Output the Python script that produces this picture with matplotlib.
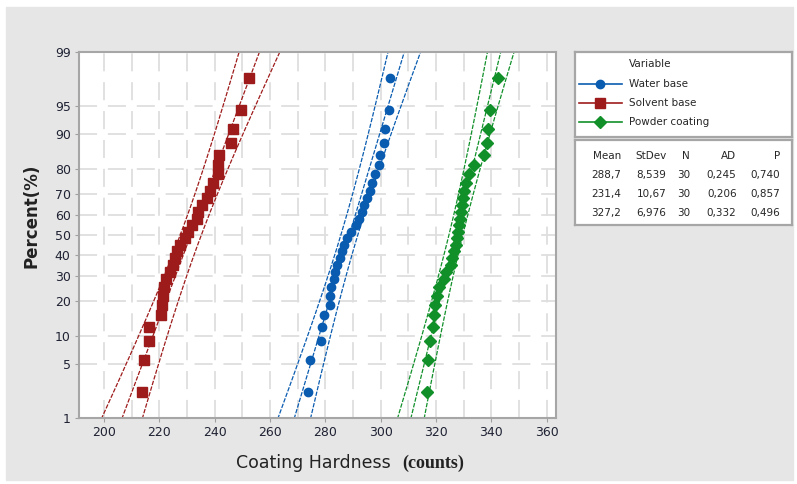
import matplotlib
matplotlib.use('Agg')
import matplotlib.pyplot as plt
from matplotlib.patches import Rectangle
from matplotlib.ticker import NullLocator, FixedLocator
import numpy as np
from statistics import NormalDist

# data (30 sorted values per group)
series = ['Water base', 'Solvent base', 'Powder coating']
water = [273.6, 274.4, 278.6, 278.8, 279.4, 281.6, 281.8, 282.2, 283.0, 283.6,
         284.2, 285.2, 286.0, 286.9, 287.9, 289.4, 291.0, 292.2, 293.3, 293.9,
         295.1, 296.0, 296.9, 298.1, 299.3, 299.9, 301.1, 301.7, 302.9, 303.5]
solvent = [213.6, 214.5, 216.3, 216.4, 220.5, 220.9, 221.2, 221.8, 222.5, 223.9,
           225.1, 225.7, 226.3, 227.5, 229.3, 230.5, 231.7, 233.5, 234.1, 235.4,
           237.2, 238.4, 239.5, 241.2, 241.4, 241.5, 245.9, 246.6, 249.6, 252.6]
powder = [316.6, 317.3, 318.0, 318.8, 319.2, 319.6, 320.3, 321.0, 322.8, 323.8,
          325.3, 325.9, 326.5, 327.1, 327.7, 328.0, 328.3, 328.6, 328.9, 329.3,
          329.8, 330.3, 331.0, 331.9, 333.7, 337.3, 338.3, 338.9, 339.7, 342.4]
means = [288.7, 231.4, 327.2]
stdevs = [8.539, 10.67, 6.976]
ns = [30, 30, 30]
ads = [0.245, 0.206, 0.332]
pvals = [0.740, 0.857, 0.496]
xticks = [200, 220, 240, 260, 280, 300, 320, 340, 360]
yticks = [1, 5, 10, 20, 30, 40, 50, 60, 70, 80, 90, 95, 99]

colors = ['#0a5cb0', '#9e1b1b', '#11902a']
markers = ['o', 's', 'D']
msizes = [6, 6.5, 6]

nd = NormalDist()
_ppf = np.vectorize(nd.inv_cdf, otypes=[float])
_cdf = np.vectorize(nd.cdf, otypes=[float])


def fwd(p):
    p = np.clip(np.asarray(p, dtype=float) / 100.0, 1e-9, 1 - 1e-9)
    return _ppf(p)


def inv(z):
    return _cdf(np.asarray(z, dtype=float)) * 100.0


W, H = 797, 484
def fx(px): return px / W
def fy(py): return 1 - py / H

fig = plt.figure(figsize=(W / 100, H / 100), dpi=100)
fig.patch.set_facecolor('white')
fig.patches.append(Rectangle((fx(6), fy(480)), fx(793) - fx(6), fy(7) - fy(480),
                             transform=fig.transFigure, color='#e6e6e6', zorder=-10))

ax = fig.add_axes([fx(79), fy(418), fx(556) - fx(79), fy(52) - fy(418)])
ax.set_yscale('function', functions=(fwd, inv))
ax.set_ylim(1, 99)
ax.set_xlim(191, 363.4)

# grid
ax.set_xticks(xticks)
ax.xaxis.set_minor_locator(FixedLocator(np.arange(190, 370, 10)))
ax.yaxis.set_major_locator(FixedLocator(yticks))
ax.yaxis.set_minor_locator(NullLocator())
ax.set_yticklabels([str(t) for t in yticks])
ax.grid(True, which='both', axis='x', color='#dedede', lw=1.3, ls=(0, (10, 6)))
ax.grid(True, which='major', axis='y', color='#dedede', lw=1.3, ls=(0, (10, 6)))
ax.set_axisbelow(True)
ax.tick_params(which='major', length=3, color='#a0a0a0', labelsize=9,
               labelcolor='#1f2233', pad=3)
ax.tick_params(which='minor', length=0)
for s in ax.spines.values():
    s.set_color('#a6a6a6')
    s.set_linewidth(1.5)

# fit lines and 95% bands, then the points
data = [water, solvent, powder]
pp = np.linspace(0.8, 99.2, 300)
zz = fwd(pp)
for vals, m, sd, n, c, mk, ms in zip(data, means, stdevs, ns, colors, markers, msizes):
    xp = m + zz * sd
    half = 1.96 * sd * np.sqrt(1.0 / n + zz ** 2 / (2.0 * n))
    for line in (xp, xp - half, xp + half):
        ax.plot(line, pp, color=c, lw=0.9, ls=(0, (3.5, 1.2)), zorder=2)
    v = np.sort(vals)
    k = len(v)
    ranks = (np.arange(1, k + 1) - 0.3) / (k + 0.4) * 100
    ax.plot(v, ranks, ls='none', marker=mk, ms=ms, color=c, zorder=3)

# axis labels
fig.text(fx(236), fy(468), 'Coating Hardness', fontsize=12.5, color='#222222',
         ha='left', va='baseline')
fig.text(fx(402), fy(468), '(counts)', fontsize=13, color='#222222',
         family='Liberation Serif', fontweight='bold', ha='left', va='baseline')
fig.text(fx(32), fy(216), 'Percent(%)', fontsize=12, fontweight='bold',
         color='#222222', rotation=90, ha='center', va='center')

# legend box
def box(top, bottom):
    b = fig.add_axes([fx(575), fy(bottom), fx(792) - fx(575), fy(top) - fy(bottom)])
    b.set_xlim(575, 792)
    b.set_ylim(bottom, top)
    b.set_xticks([])
    b.set_yticks([])
    for s in b.spines.values():
        s.set_color('#a6a6a6')
        s.set_linewidth(1.6)
    return b

lg = box(52, 137)
tcol = '#262626'
lg.text(629, 64, 'Variable', fontsize=7.5, color=tcol, va='center')
for i, (name, c, mk, ms) in enumerate(zip(series, colors, markers, msizes)):
    y = 84 + i * 19
    lg.plot([579, 622], [y, y], color=c, lw=1.2)
    lg.plot([600], [y], marker=mk, ms=ms, color=c)
    lg.text(629, y, name, fontsize=7.5, color=tcol, va='center')

st = box(140, 225)
cols_x = [621.5, 666.5, 690, 736.5, 780]
headers = ['Mean', 'StDev', 'N', 'AD', 'P']
for x, h in zip(cols_x, headers):
    st.text(x, 156, h, fontsize=7.5, color=tcol, ha='right', va='center')
for i in range(3):
    row = [f'{means[i]:.1f}', f'{stdevs[i]:.4g}', str(ns[i]),
           f'{ads[i]:.3f}', f'{pvals[i]:.3f}']
    y = 175 + i * 19
    for x, t in zip(cols_x, row):
        st.text(x, y, t.replace('.', ','), fontsize=7.5, color=tcol,
                ha='right', va='center')

fig.savefig('out.png', dpi=100, facecolor=fig.get_facecolor())
